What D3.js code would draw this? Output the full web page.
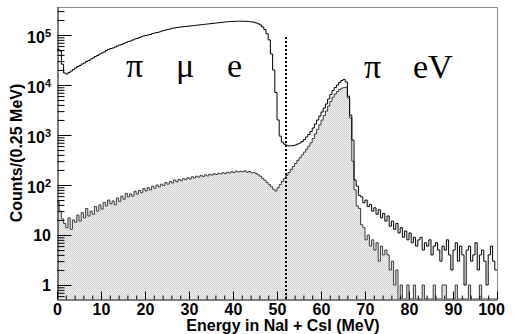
<!DOCTYPE html>
<html>
<head>
<meta charset="utf-8">
<script src="https://cdn.jsdelivr.net/npm/d3@7"></script>
<style>
  html, body { margin: 0; padding: 0; background: #fff; }
  svg { display: block; }
  .lab { font-family: "Liberation Sans", Arial, sans-serif; font-weight: bold; font-size: 16px; fill: #000; }
  .greek { font-family: "Liberation Serif", "Times New Roman", serif; font-size: 34px; fill: #000; }
</style>
</head>
<body>
<svg id="chart" width="513" height="334"></svg>
<script>
// Energy spectrum, 0.5 MeV bins from 0 to 100 MeV
const binWidth = 0.5;
const binLow = d3.range(0, 100, binWidth);

// all events
const totalCounts = [
  52000, 48000, 26000, 17400, 16600, 17800, 19000, 20400, 21900, 23400,
  24500, 26300, 27500, 29500, 30900, 33100, 34700, 37200, 38900, 41700,
  43600, 45700, 49000, 51300, 53700, 55000, 57500, 60300, 63100, 64600,
  67600, 70800, 74100, 75900, 79400, 83200, 85100, 89100, 92300, 95500,
  97700, 100000, 102300, 107200, 109600, 112200, 114800, 118900, 123000, 125900,
  128800, 131800, 136500, 138000, 141300, 142900, 144500, 146200, 147900, 149600,
  151400, 153100, 154900, 156700, 158500, 160300, 162200, 164100, 166000, 167900,
  169800, 171800, 173800, 175800, 177800, 179900, 182000, 184100, 185400, 186200,
  187100, 187900, 188400, 188800, 188800, 188400, 187100, 185400, 182800, 179900,
  174800, 168000, 158900, 145000, 128200, 105700, 79800, 41700, 20000, 7100,
  2000, 950, 720, 655, 620, 605, 610, 617, 631, 661,
  692, 741, 813, 912, 1023, 1175, 1380, 1660, 1995, 2400,
  2880, 3470, 4170, 5250, 6460, 7760, 8910, 10000, 11200, 12300,
  12900, 11500, 6000, 2500, 794, 126, 95, 62, 58, 44,
  50, 37, 41, 30, 35, 26, 32, 22, 27, 19,
  24, 15, 19, 13, 17, 11, 14, 9, 12, 8,
  11, 7, 9, 6, 8, 9, 5, 7, 6, 8,
  4, 6, 7, 5, 3, 6, 5, 8, 4, 2,
  5, 7, 3, 6, 4, 1, 5, 6, 3, 4,
  7, 2, 4, 5, 3, 1, 4, 6, 3, 2
];

// events surviving the suppression cuts
const suppressedCounts = [
  46, 30, 21, 17, 14, 22, 13, 20, 18, 25,
  19, 28, 22, 34, 24, 30, 26, 37, 30, 40,
  33, 45, 38, 50, 42, 48, 40, 55, 47, 60,
  52, 68, 58, 66, 60, 75, 66, 78, 70, 85,
  76, 88, 80, 95, 86, 100, 92, 104, 98, 112,
  104, 118, 110, 126, 116, 130, 122, 134, 128, 140,
  132, 146, 138, 150, 144, 156, 148, 160, 152, 164,
  158, 168, 162, 172, 166, 176, 170, 180, 174, 184,
  178, 190, 182, 188, 184, 192, 180, 186, 176, 178,
  170, 160, 150, 136, 125, 112, 102, 92, 82, 76,
  88, 102, 118, 135, 155, 178, 205, 235, 270, 310,
  350, 400, 455, 520, 600, 700, 850, 1050, 1300, 1600,
  1980, 2450, 3000, 3800, 4700, 5700, 6600, 7400, 8100, 8600,
  8900, 9000, 5500, 2200, 300, 80, 38, 34, 16, 14,
  8, 10, 6, 8, 5, 7, 3, 6, 4, 5,
  4, 2, 3, 1, 2, 0, 1, 0, 0, 1,
  0, 0, 1, 0, 0, 0, 1, 0, 0, 0,
  0, 1, 0, 0, 0, 1, 1, 0, 0, 0,
  0, 1, 0, 0, 0, 0, 0, 1, 0, 0,
  0, 0, 1, 0, 0, 0, 0, 0, 0, 0
];

const xTicks = [0, 10, 20, 30, 40, 50, 60, 70, 80, 90, 100];
const xMinorTicks = d3.range(0, 101, 2).filter(v => v % 10 !== 0);
const yDecades = [0, 1, 2, 3, 4, 5];
const cutEnergy = 52;
const cutTop = 90000;
const decayLabelsLow = ["π", "μ", "e"];
const decayLabelsHigh = ["π", "eV"];
const xTitle = "Energy in NaI + CsI (MeV)";
const yTitle = "Counts/(0.25 MeV)";

const frame = { left: 57, right: 497, top: 7, bottom: 299 };
const svg = d3.select("#chart");

const x = d3.scaleLinear().domain([0, 100]).range([frame.left, frame.right]);
const y = d3.scaleLog().domain([0.525, 363000]).range([frame.bottom, frame.top]);
const yFloor = y.domain()[0];

const defs = svg.append("defs");
const pat = defs.append("pattern").attr("id", "stipple")
  .attr("width", 2).attr("height", 2).attr("patternUnits", "userSpaceOnUse");
pat.append("rect").attr("width", 2).attr("height", 2).attr("fill", "#eeeeee");
pat.append("rect").attr("width", 1).attr("height", 1).attr("fill", "#cdcdcd");
pat.append("rect").attr("x", 1).attr("y", 1).attr("width", 1).attr("height", 1).attr("fill", "#d6d6d6");
defs.append("clipPath").attr("id", "plotArea").append("rect")
  .attr("x", frame.left).attr("y", frame.top)
  .attr("width", frame.right - frame.left).attr("height", frame.bottom - frame.top);

// step outline points for a histogram; empty bins fall to the frame floor
function steps(counts) {
  const pts = [];
  counts.forEach((c, i) => {
    const v = Math.max(c, yFloor);
    pts.push([binLow[i], v], [binLow[i] + binWidth, v]);
  });
  return pts;
}

const plot = svg.append("g").attr("clip-path", "url(#plotArea)");

const supPts = steps(suppressedCounts);
plot.append("path")
  .attr("d", d3.area().x(d => x(d[0])).y0(frame.bottom).y1(d => y(d[1]))(supPts))
  .attr("fill", "url(#stipple)");
plot.append("path")
  .attr("d", d3.line().x(d => x(d[0])).y(d => y(d[1]))(supPts))
  .attr("fill", "none").attr("stroke", "#3a3a3a").attr("stroke-width", 1);

plot.append("path")
  .attr("d", d3.line().x(d => x(d[0])).y(d => y(d[1]))(steps(totalCounts)))
  .attr("fill", "none").attr("stroke", "#000").attr("stroke-width", 1);

// cut position
const cutX = Math.round(x(cutEnergy));
svg.append("line")
  .attr("x1", cutX).attr("x2", cutX)
  .attr("y1", Math.round(y(cutTop))).attr("y2", frame.bottom)
  .attr("stroke", "#000").attr("stroke-width", 2).attr("stroke-dasharray", "2,2");

// frame top and right
svg.append("path")
  .attr("d", `M${frame.left},${frame.top + 0.5}H${frame.right + 0.5}V${frame.bottom}`)
  .attr("fill", "none").attr("stroke", "#8a8a8a").attr("stroke-width", 1);

// x axis
const gx = svg.append("g").attr("transform", `translate(0,${frame.bottom + 0.5})`)
  .call(d3.axisBottom(x).tickValues(xTicks).tickSizeInner(-8).tickSizeOuter(0).tickPadding(4));
gx.select(".domain").attr("stroke", "#000");
gx.selectAll("text").attr("class", "lab").attr("font-size", null).attr("font-family", null)
  .attr("dx", d => d === 100 ? -6 : 0);
const gxm = svg.append("g").attr("transform", `translate(0,${frame.bottom + 0.5})`)
  .call(d3.axisBottom(x).tickValues(xMinorTicks).tickSizeInner(-4).tickSizeOuter(0).tickFormat(""));
gxm.select(".domain").remove();

// y axis
const yMinor = [];
[-1, 0, 1, 2, 3, 4, 5].forEach(k => {
  for (let m = 2; m <= 9; m++) {
    const v = m * Math.pow(10, k);
    if (v > y.domain()[0] && v < y.domain()[1]) yMinor.push(v);
  }
});
const gy = svg.append("g").attr("transform", `translate(${frame.left + 0.5},0)`)
  .call(d3.axisLeft(y).tickValues(yDecades.map(k => Math.pow(10, k)))
    .tickSizeInner(-14).tickSizeOuter(0).tickFormat(""));
gy.select(".domain").attr("stroke", "#000");
const gym = svg.append("g").attr("transform", `translate(${frame.left + 0.5},0)`)
  .call(d3.axisLeft(y).tickValues(yMinor).tickSizeInner(-7).tickSizeOuter(0).tickFormat(""));
gym.select(".domain").remove();

yDecades.forEach(k => {
  const py = y(Math.pow(10, k));
  const t = svg.append("text").attr("class", "lab").attr("x", 51).attr("text-anchor", "end");
  if (k === 0) t.attr("y", py + 6).text("1");
  else if (k === 1) t.attr("y", py + 6).text("10");
  else {
    t.attr("y", py + 8).text("10");
    t.append("tspan").attr("dy", -6).attr("font-size", 11).text(k);
  }
});

// axis titles
svg.append("text").attr("class", "lab").attr("x", 283).attr("y", 331)
  .attr("text-anchor", "middle").text(xTitle);
svg.append("text").attr("class", "lab").attr("text-anchor", "middle")
  .attr("transform", `translate(22,${(frame.top + frame.bottom) / 2}) rotate(-90)`)
  .text(yTitle);

// decay channel labels
const lowX = [126, 176, 227];
decayLabelsLow.forEach((s, i) => {
  svg.append("text").attr("class", "greek").attr("x", lowX[i]).attr("y", 77).text(s);
});
const highX = [364, 413];
decayLabelsHigh.forEach((s, i) => {
  svg.append("text").attr("class", "greek").attr("x", highX[i]).attr("y", 78)
    .attr("font-size", i === 1 ? 32 : null).text(s);
});
</script>
</body>
</html>
